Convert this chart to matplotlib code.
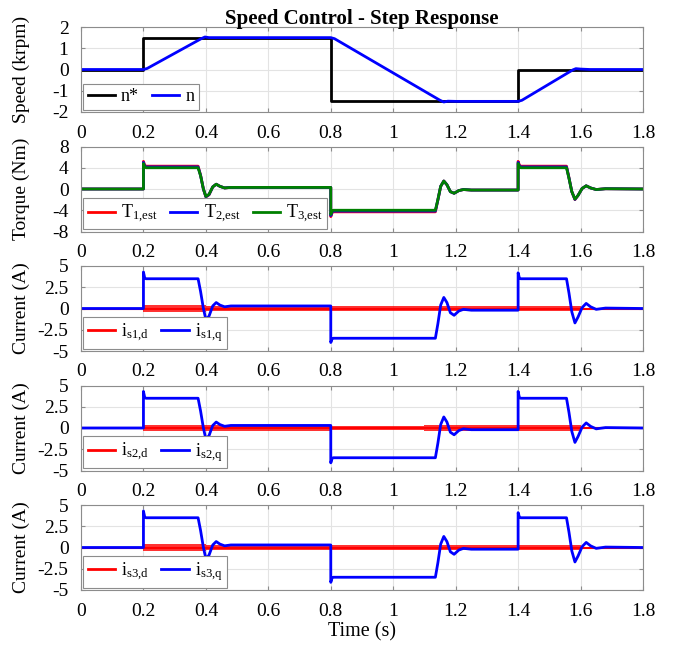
import matplotlib
matplotlib.use("Agg")
import matplotlib.pyplot as plt

plt.rcParams['font.family'] = ['Liberation Serif', 'DejaVu Serif']
plt.rcParams['mathtext.fontset'] = 'custom'
plt.rcParams['mathtext.rm'] = 'Liberation Serif'
plt.rcParams['mathtext.it'] = 'Liberation Serif:italic'
plt.rcParams['axes.unicode_minus'] = False

# ---- speed (krpm) ----
t_ref = [0, 0.2, 0.2, 0.8, 0.8, 1.4, 1.4, 1.8]
n_ref = [0, 0, 1.5, 1.5, -1.5, -1.5, 0, 0]

t_n = [0, 0.200, 0.212, 0.385, 0.397, 0.410, 0.440, 0.800, 0.812, 1.150,
       1.162, 1.175, 1.200, 1.400, 1.412, 1.575, 1.585, 1.600, 1.630, 1.800]
n_act = [0, 0, 0.05, 1.45, 1.53, 1.50, 1.50, 1.50, 1.45, -1.45,
         -1.53, -1.49, -1.50, -1.50, -1.45, -0.02, 0.04, 0.02, 0, 0]

# ---- shared time base for torque / q-axis current traces ----
t_tq = [0, 0.2, 0.2, 0.204, 0.208, 0.375, 0.383, 0.392, 0.400, 0.410,
        0.422, 0.433, 0.445, 0.460, 0.480, 0.8, 0.8, 0.804, 0.808, 1.135,
        1.143, 1.152, 1.162, 1.172, 1.183, 1.195, 1.210, 1.225, 1.250, 1.4,
        1.4, 1.404, 1.408, 1.555, 1.563, 1.572, 1.582, 1.592, 1.605, 1.618,
        1.632, 1.650, 1.680, 1.8]

T1_est = [0, 0, 5.2, 4.5, 4.3, 4.3, 2.6, 0.0, -1.5, -1.1,
          0.4, 0.9, 0.5, 0.2, 0.3, 0.3, -5.2, -4.5, -4.3, -4.3,
          -2.1, 0.5, 1.5, 0.8, -0.5, -0.8, -0.3, -0.1, -0.2, -0.2,
          5.2, 4.5, 4.3, 4.3, 2.1, -0.5, -2.0, -1.2, 0.1, 0.6,
          0.2, -0.1, 0.05, 0]
T2_est = [0, 0, 5.0, 4.3, 4.15, 4.15, 2.55, 0.0, -1.45, -1.05,
          0.4, 0.9, 0.5, 0.2, 0.3, 0.3, -5.0, -4.35, -4.15, -4.15,
          -2.05, 0.5, 1.5, 0.8, -0.5, -0.8, -0.3, -0.1, -0.2, -0.2,
          5.0, 4.35, 4.15, 4.15, 2.05, -0.5, -1.95, -1.2, 0.1, 0.6,
          0.2, -0.1, 0.05, 0]
T3_est = [0, 0, 4.8, 4.2, 4.0, 4.0, 2.5, 0.0, -1.4, -1.0,
          0.4, 0.9, 0.5, 0.2, 0.3, 0.3, -4.8, -4.2, -4.0, -4.0,
          -2.0, 0.5, 1.5, 0.8, -0.5, -0.8, -0.3, -0.1, -0.2, -0.2,
          4.8, 4.2, 4.0, 4.0, 2.0, -0.5, -1.9, -1.2, 0.1, 0.6,
          0.2, -0.1, 0.05, 0]

is1_q = [0, 0, 4.3, 3.6, 3.5, 3.5, 2.0, 0.0, -1.3, -0.9,
         0.3, 0.7, 0.4, 0.2, 0.3, 0.3, -4.0, -3.6, -3.5, -3.5,
         -1.8, 0.4, 1.3, 0.7, -0.5, -0.8, -0.3, -0.1, -0.2, -0.2,
         4.2, 3.6, 3.5, 3.5, 1.8, -0.4, -1.7, -1.0, 0.1, 0.6,
         0.2, -0.1, 0.05, 0]
is2_q = [0, 0, 4.3, 3.6, 3.5, 3.5, 2.0, 0.0, -1.3, -0.9,
         0.3, 0.7, 0.4, 0.2, 0.3, 0.3, -4.1, -3.6, -3.5, -3.5,
         -1.8, 0.4, 1.3, 0.7, -0.5, -0.8, -0.3, -0.1, -0.2, -0.2,
         4.3, 3.6, 3.5, 3.5, 1.8, -0.4, -1.7, -1.0, 0.1, 0.6,
         0.2, -0.1, 0.05, 0]
is3_q = [0, 0, 4.3, 3.6, 3.5, 3.5, 2.0, 0.0, -1.3, -0.9,
         0.3, 0.7, 0.4, 0.2, 0.3, 0.3, -4.1, -3.6, -3.5, -3.5,
         -1.8, 0.4, 1.3, 0.7, -0.5, -0.8, -0.3, -0.1, -0.2, -0.2,
         4.1, 3.6, 3.5, 3.5, 1.8, -0.4, -1.7, -1.0, 0.1, 0.6,
         0.2, -0.1, 0.05, 0]

# d-axis currents: zero mean with a switching-ripple band (half-width per interval)
t_d = [0, 0.2, 0.4, 0.8, 1.1, 1.4, 1.6, 1.8]
is1_d_ripple = [0.02, 0.40, 0.32, 0.28, 0.30, 0.32, 0.08, 0.08]
is2_d_ripple = [0.02, 0.38, 0.32, 0.28, 0.30, 0.32, 0.08, 0.08]
is3_d_ripple = [0.02, 0.40, 0.32, 0.28, 0.32, 0.32, 0.08, 0.08]

x_ticks = [0, 0.2, 0.4, 0.6, 0.8, 1.0, 1.2, 1.4, 1.6, 1.8]
x_labels = ['0', '0.2', '0.4', '0.6', '0.8', '1', '1.2', '1.4', '1.6', '1.8']

FS = 14
RED, BLUE, GREEN, BLACK = '#ff0000', '#0000ff', '#008000', '#000000'
EDGE = '#8c8c8c'

fig = plt.figure(figsize=(6.74, 6.45), dpi=100)
W, H = 674.0, 645.0
left, right = 81 / W, 643 / W
tops = [27, 146.5, 266, 385.5, 505]
ph = 85
axes = []
for tp in tops:
    ax = fig.add_axes([left, 1 - (tp + ph) / H, right - left, ph / H])
    axes.append(ax)


def style(ax, yticks, ylabels, ylabel):
    ax.set_xlim(0, 1.8)
    ax.set_xticks(x_ticks)
    ax.set_xticklabels(x_labels)
    ax.set_ylim(yticks[0], yticks[-1])
    ax.set_yticks(yticks)
    ax.set_yticklabels(ylabels)
    ax.grid(True, color='#e3e3e3', lw=0.8)
    ax.set_axisbelow(True)
    for s in ax.spines.values():
        s.set_color(EDGE)
        s.set_linewidth(0.8)
    ax.tick_params(direction='in', length=3, color=EDGE, labelsize=FS,
                   top=True, right=True)
    ax.tick_params(axis='x', pad=9)
    ax.tick_params(axis='y', pad=9)
    ax.set_ylabel(ylabel, fontsize=FS)
    ax.yaxis.set_label_coords(-0.09, 0.5)


def legend(ax, ncol):
    lg = ax.legend(loc='lower left', ncol=ncol, fontsize=13, frameon=True,
                   fancybox=False, framealpha=1, edgecolor=EDGE,
                   handlelength=1.5, handletextpad=0.35, columnspacing=0.7,
                   borderaxespad=0.12, borderpad=0.25)
    lg.get_frame().set_linewidth(0.8)


# speed
ax = axes[0]
ax.plot(t_ref, n_ref, color=BLACK, lw=2, label='n*')
ax.plot(t_n, n_act, color=BLUE, lw=2, label='n')
style(ax, [-2, -1, 0, 1, 2], ['-2', '-1', '0', '1', '2'], 'Speed (krpm)')
legend(ax, 2)
ax.set_title('Speed Control - Step Response', fontsize=15, fontweight='bold', pad=2)

# torque estimates
ax = axes[1]
ax.plot(t_tq, T1_est, color=RED, lw=2, label=r'$\mathregular{T_{1{,}est}}$')
ax.plot(t_tq, T2_est, color=BLUE, lw=2, label=r'$\mathregular{T_{2{,}est}}$')
ax.plot(t_tq, T3_est, color=GREEN, lw=2, label=r'$\mathregular{T_{3{,}est}}$')
style(ax, [-8, -4, 0, 4, 8], ['-8', '-4', '0', '4', '8'], 'Torque (Nm)')
legend(ax, 3)

# stator currents
cur_ticks = [-5, -2.5, 0, 2.5, 5]
cur_labels = ['-5', '-2.5', '0', '2.5', '5']
for k, (ax, rip, iq) in enumerate(zip(axes[2:],
                                      [is1_d_ripple, is2_d_ripple, is3_d_ripple],
                                      [is1_q, is2_q, is3_q]), start=1):
    lo = [-r for r in rip]
    ax.fill_between(t_d, lo, rip, step='post', color=RED, lw=0, alpha=0.8)
    ax.plot([t_d[0], t_d[-1]], [0, 0], color=RED, lw=1.5,
            label=r'$\mathregular{i_{s%d{,}d}}$' % k)
    ax.plot(t_tq, iq, color=BLUE, lw=2, label=r'$\mathregular{i_{s%d{,}q}}$' % k)
    style(ax, cur_ticks, cur_labels, 'Current (A)')
    legend(ax, 2)
    for line in ax.get_legend().get_lines():
        line.set_linewidth(2)

axes[-1].set_xlabel('Time (s)', fontsize=14.5, labelpad=2)

fig.savefig('out.png', dpi=100)
